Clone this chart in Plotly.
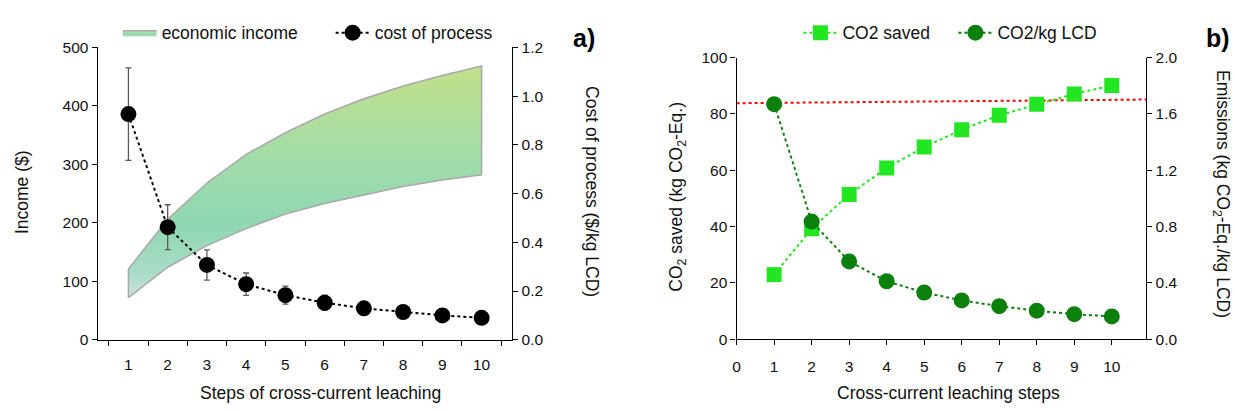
import plotly.graph_objects as go

# ---- data -------------------------------------------------------------
steps = [1, 2, 3, 4, 5, 6, 7, 8, 9, 10]
step_labels = ["1", "2", "3", "4", "5", "6", "7", "8", "9", "10"]

income_low = [72, 124, 161, 190, 215, 233, 248, 262, 273, 282]
income_high = [121, 206, 268, 317, 354, 386, 412, 434, 452, 468]

process_cost = [0.926, 0.462, 0.307, 0.228, 0.183, 0.152, 0.129, 0.114, 0.100, 0.090]
process_cost_err = [0.19, 0.092, 0.062, 0.046, 0.037, 0.031, 0.026, 0.023, 0.020, 0.018]

co2_saved = [22.9, 39.2, 51.4, 60.8, 68.2, 74.4, 79.5, 83.4, 87.1, 90.1]
co2_per_kg = [1.669, 0.835, 0.552, 0.411, 0.331, 0.275, 0.234, 0.202, 0.177, 0.161]

ref_x = [0, 10.92]
ref_level = [83.8, 85.1]

left_y_ticks = [0, 100, 200, 300, 400, 500]
left_y2_ticks = [0.0, 0.2, 0.4, 0.6, 0.8, 1.0, 1.2]
right_x_ticks = [0, 1, 2, 3, 4, 5, 6, 7, 8, 9, 10]
right_y_ticks = [0, 20, 40, 60, 80, 100]
right_y2_ticks = [0.0, 0.4, 0.8, 1.2, 1.6, 2.0]

# ---- page geometry ---------------------------------------------------
W, H = 1236, 412
FONT = "Liberation Sans, Arial, sans-serif"
INK = "#111111"
TICK_SIZE = 15.5
TITLE_SIZE = 17.5


def px(x):
    return x / W


def py(y):
    return 1 - y / H


fig = go.Figure()

# economic income band (closed polygon with vertical gradient)
band_x = step_labels + step_labels[::-1] + [step_labels[0]]
band_y = income_high + income_low[::-1] + [income_high[0]]
fig.add_trace(go.Scatter(
    x=band_x, y=band_y, xaxis="x", yaxis="y",
    mode="lines", fill="toself",
    line=dict(color="#a9a9a9", width=1.5),
    fillgradient=dict(
        type="vertical",
        start=70, stop=470,
        colorscale=[
            [0.0, "#dde6f0"],
            [0.15, "#aadcc8"],
            [0.35, "#8fd7b2"],
            [0.6, "#a0dcaa"],
            [1.0, "#c2e08a"],
        ],
    ),
    name="economic income", legend="legend",
))

# error bars for cost of process
fig.add_trace(go.Scatter(
    x=step_labels, y=process_cost, xaxis="x", yaxis="y2",
    mode="markers", marker=dict(size=1, color="rgba(0,0,0,0)"),
    error_y=dict(type="data", array=process_cost_err, color="#5a5a5a",
                 thickness=1.3, width=3),
    showlegend=False, hoverinfo="skip",
))

# cost of process line
fig.add_trace(go.Scatter(
    x=step_labels, y=process_cost, xaxis="x", yaxis="y2",
    mode="lines+markers",
    line=dict(color="black", width=2, dash="dot"),
    marker=dict(size=16, color="black"),
    name="cost of process", legend="legend",
))

# reference level (right panel)
fig.add_trace(go.Scatter(
    x=ref_x, y=ref_level, xaxis="x2", yaxis="y3",
    mode="lines", line=dict(color="#ff0000", width=2, dash="dot"),
    showlegend=False, hoverinfo="skip",
))

fig.add_trace(go.Scatter(
    x=steps, y=co2_saved, xaxis="x2", yaxis="y3",
    mode="lines+markers",
    line=dict(color="#22e622", width=2, dash="dot"),
    marker=dict(symbol="square", size=15, color="#22e622"),
    name="CO2 saved", legend="legend2",
))

fig.add_trace(go.Scatter(
    x=steps, y=co2_per_kg, xaxis="x2", yaxis="y4",
    mode="lines+markers",
    line=dict(color="#0c800c", width=2, dash="dot"),
    marker=dict(symbol="circle", size=16, color="#0c800c"),
    name="CO2/kg LCD", legend="legend2",
))

axis_common = dict(
    showline=True, linecolor="black", linewidth=1.3,
    ticks="outside", ticklen=5, tickcolor="black", tickwidth=1.3,
    showgrid=False, zeroline=False,
    tickfont=dict(family=FONT, size=TICK_SIZE, color=INK),
)

left_dom = [px(94), px(510)]
right_dom = [px(735), px(1146)]
left_ydom = [py(345), py(40)]
right_ydom = [py(344.3), py(50.7)]

legend_common = dict(
    orientation="h", xanchor="left", yanchor="top",
    font=dict(family=FONT, size=TITLE_SIZE, color=INK),
    bgcolor="rgba(0,0,0,0)", itemwidth=34,
)

fig.update_layout(
    width=W, height=H,
    margin=dict(l=0, r=0, t=0, b=0),
    paper_bgcolor="white", plot_bgcolor="white",
    font=dict(family=FONT, size=TICK_SIZE, color=INK),
    xaxis=dict(axis_common, domain=left_dom, anchor="y", type="category",
               categoryorder="array", categoryarray=step_labels,
               tickson="boundaries", ticklabelstandoff=10),
    yaxis=dict(axis_common, domain=left_ydom, anchor="x", range=[0, 500],
               tickvals=left_y_ticks),
    yaxis2=dict(axis_common, domain=left_ydom, anchor="x", overlaying="y",
                side="right", range=[0, 1.2], tickvals=left_y2_ticks,
                tickformat=".1f"),
    xaxis2=dict(axis_common, domain=right_dom, anchor="y3",
                range=[0, ref_x[1]], tickvals=right_x_ticks,
                ticklabelstandoff=8),
    yaxis3=dict(axis_common, domain=right_ydom, anchor="x2", range=[0, 100],
                tickvals=right_y_ticks),
    yaxis4=dict(axis_common, domain=right_ydom, anchor="x2", overlaying="y3",
                side="right", range=[0, 2], tickvals=right_y2_ticks,
                tickformat=".1f"),
    legend=dict(legend_common, x=px(114), y=py(6),
                entrywidth=164, entrywidthmode="pixels"),
    legend2=dict(legend_common, x=px(797), y=py(6),
                 entrywidth=106, entrywidthmode="pixels"),
    showlegend=True,
)

annots = [
    dict(text="Income ($)", x=px(18), y=py(191), textangle=-90),
    dict(text="Cost of process ($/kg LCD)", x=px(590), y=py(190), textangle=90),
    dict(text="Steps of cross-current leaching", x=px(318), y=py(401), textangle=0),
    dict(text="CO<sub>2</sub> saved (kg CO<sub>2</sub>-Eq.)", x=px(676), y=py(196), textangle=-90),
    dict(text="Emissions (kg CO<sub>2</sub>-Eq./kg LCD)", x=px(1222), y=py(193), textangle=90),
    dict(text="Cross-current leaching steps", x=px(948), y=py(401), textangle=0),
]
for a in annots:
    fig.add_annotation(xref="paper", yref="paper", showarrow=False,
                       xanchor="center", yanchor="middle",
                       font=dict(family=FONT, size=TITLE_SIZE, color=INK), **a)

for label, xpos in (("a)", 582), ("b)", 1218)):
    fig.add_annotation(text=f"<b>{label}</b>", xref="paper", yref="paper",
                       x=px(xpos), y=py(30), showarrow=False,
                       xanchor="center", yanchor="middle",
                       font=dict(family=FONT, size=25, color="black"))

fig.write_html("out.html")
